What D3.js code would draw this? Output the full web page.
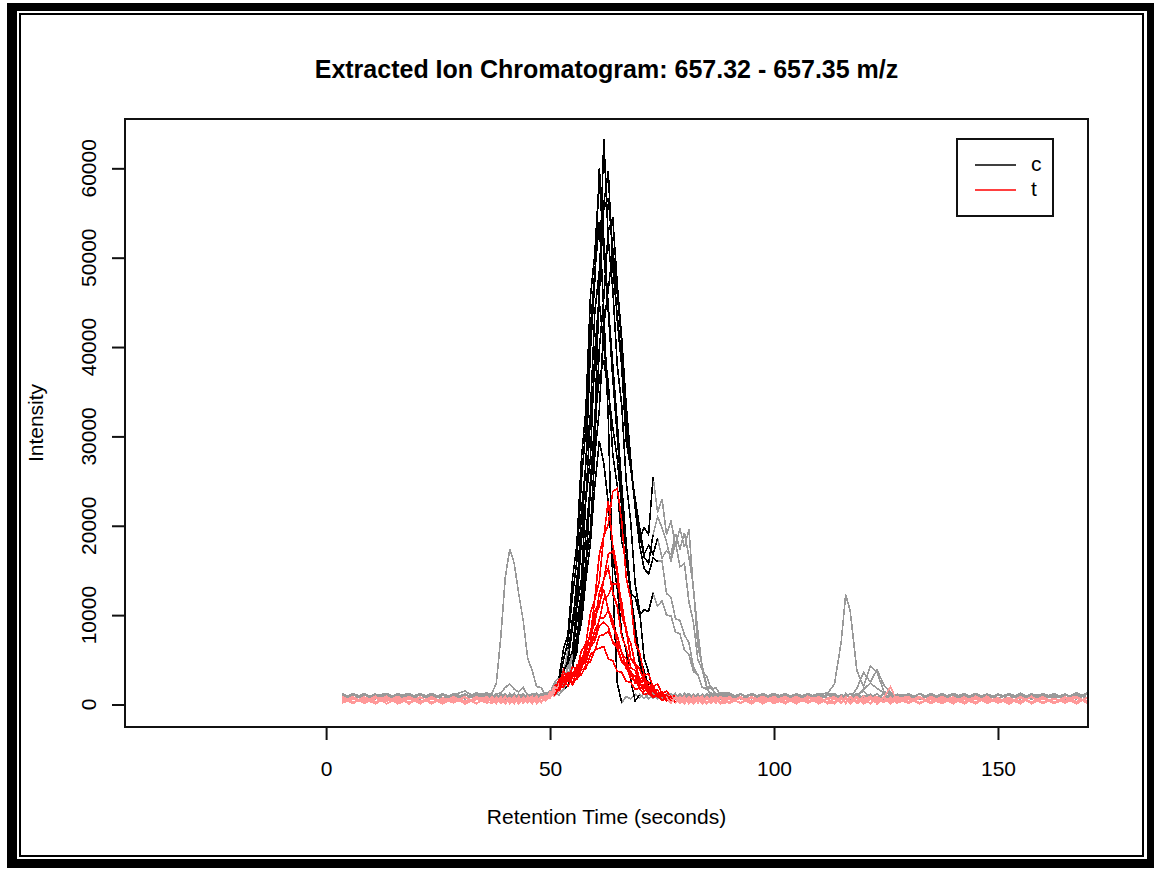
<!DOCTYPE html>
<html>
<head>
<meta charset="utf-8">
<script src="https://cdn.jsdelivr.net/npm/d3@7"></script>
<style>
  body { margin: 0; background: #fff; }
  svg { display: block; }
  text { font-family: "Liberation Sans", Arial, sans-serif; fill: #000; }
</style>
</head>
<body>
<svg id="chart" width="1158" height="870"></svg>
<script>
// Retention time grid (seconds) shared by every extracted ion chromatogram
const retentionTime = [
  3.5, 6, 8.5, 11, 13.5, 16, 18.5, 21, 23.5, 26, 28.5, 31, 33.5, 36,
  37, 38, 39, 40, 41, 42, 43, 44, 45, 46, 47, 48, 49, 50, 51, 52, 53, 54, 55, 56,
  57, 58, 59, 60, 61, 62, 63, 64, 65, 66, 67, 68, 69, 70, 71, 72, 73, 74, 75, 76,
  77, 78, 79, 80, 81, 82, 83, 84, 85, 86, 87, 88,
  90, 92.5, 95, 97.5, 100, 102.5, 105, 107.5, 110, 112,
  113.5, 115, 116, 117, 118.5, 120, 121.5, 123, 124.5, 126, 127.5,
  130, 132.5, 135, 137.5, 140, 142.5, 145, 147.5, 150, 152.5, 155, 157.5, 160, 162.5, 165, 167.5, 170, 172.5
];

// Sample classes and their colours
const classNames = ["c", "t"];
const classColors = ["#000000", "#FF0000"];
const classLightColors = ["#999999", "#FF9999"];

// Samples: class and detected peak retention-time window
const sampleClass = ["c","c","c","c","c","c","c","c","c","c","c","t","t","t","t","t","t","t","t","t","t"];
const peakStart = [53, 53, 54, 52, 54, 55, 52, 55, 53, 55, 55, 52, 51, 52, 52, 51, 51, 52, 51, 52, 51];
const peakEnd   = [73, 72, 73, 72, 73, 74, 66, 74, 73, 70, 72, 78, 77, 77, 76, 76, 76, 77, 78, 77, 76];

// Intensities per sample, one value per retention time
const eicC01 = [620,1050,700,1180,580,960,1240,650,1010,720,1150,600,1080,900,
  1120,640,980,700,1200,610,1050,760,1170,660, 1020,720,1190,840,1300,1050,1700,2100,4300,5800,
  11500,14800,25000,31500,47000,63300,52000,46500,38000,33500, 25000,20500,13500,10500,5200,3600,1500,1250,640,1100,
  700,1180,620,990,1240,680,1060,590,1150,730, 1210,640,
  1080,650,1200,720,980,600,1150,820,1230,690,
  1010,590,1170,700,1240,640,1060,760,1190,620,980,
  1130,680,1020,600,1250,740,1090,630,1180,700,1040,590,1200,810,1110,650,1260,720];
const eicC02 = [700,1140,610,990,1230,680,1080,590,1190,750,1020,640,1260,1100,
  650,1150,720,1040,590,1210,680,1100,760,1180, 620,1090,1250,1400,1900,2200,4000,5200,9600,12500,
  21500,27000,39500,47500,60000,52000,44500,38000,31500,24500, 18000,12500,8800,5200,3800,1900,720,1150,640,1060,
  1200,660,1010,740,1170,600,1090,700,1230,650, 980,1150,
  620,1110,700,1240,660,1020,580,1180,740,1060,
  1150,640,1000,720,1210,590,1090,670,1180,760,1040,
  600,1170,690,1030,750,1220,620,1080,700,1250,650,990,1160,610,1100,720,1200,640];
const eicC03 = [1100,620,1190,700,1020,590,1240,660,1080,730,1160,610,1050,1300,
  700,1130,600,1220,760,1060,640,1190,710,1100, 650,1170,1020,1350,1150,2100,2300,4500,6000,11000,
  14000,23000,27500,39500,46000,56000,59700,49000,43500,38500, 31000,26500,22500,18500,19800,19000,25500,21500,23000,19000,
  20500,17800,19700,17600,19600,12800,8200,3800,3100,1700, 1900,1100,
  1300,700,1150,620,1210,760,1030,600,1190,680,
  1080,650,1230,720,990,1500,640,1160,700,1220,610,
  1190,600,1050,740,1230,660,1000,590,1170,710,1110,640,1250,690,1020,760,1180,620];
const eicC04 = [640,1210,760,1060,600,1150,700,1250,650,1010,730,1180,610,1090,
  1170,690,1030,610,1220,740,1080,620,1160,700, 1240,660,1300,1300,2500,3000,6200,7800,14000,18000,
  27500,33000,45500,50500,59000,50500,44000,36500,30000,23500, 17500,12800,7500,5200,2600,1900,1180,640,1060,710,
  1150,600,1220,680,1020,750,1190,620,1080,700, 1240,650,
  1020,640,1180,720,1250,600,1090,690,1160,750,
  610,1130,700,1240,660,1010,740,1190,590,1080,720,
  1200,650,1080,720,1170,600,1240,690,1030,760,1150,620,1210,700,1060,640,1190,730];
const eicC05 = [1090,700,1230,620,1040,750,1170,600,1200,680,1060,730,1140,1250,
  690,1180,620,1100,740,1240,660,1050,700,1190, 1230,650,1120,1500,1600,2800,3400,6200,8500,14200,
  18000,27500,32500,44000,48500,55500,56700,51000,46000,40500, 33000,27000,22000,19000,16500,15800,19000,21000,19800,18200,
  16000,18200,15400,15800,11500,9200,5000,3900,1800,1900, 1000,1250,
  700,1200,630,1090,750,1160,610,1240,680,1050,
  1170,620,1040,730,1200,660,1120,590,1250,1400,700,
  1010,680,1190,610,1080,740,1230,650,1030,720,1160,600,1200,690,1100,640,1350,710];
const eicC06 = [660,1170,730,1020,610,1240,690,1090,640,1200,760,1050,620,1160,
  1040,640,1210,700,1100,620,1180,740,1020,650, 1130,700,1240,1050,1400,1450,2600,3100,5400,7300,
  12200,15800,24000,29500,39800,45500,53000,54500,47000,41000, 33500,27500,22000,17800,15200,14600,16400,16000,16100,12400,
  12000,9600,9400,7800,6900,4200,3300,1900,1700,1050, 1200,760,
  1150,690,1220,610,1080,730,1190,650,1030,720,
  640,1110,700,1230,1000,1700,2400,1800,1300,700,1160,
  720,1190,640,1060,740,1230,600,1120,690,1170,630,1050,760,1210,660,1090,710,1240];
const eicC07 = [1120,650,1030,720,1200,600,1140,690,1250,740,1060,620,1180,700,
  630,1160,720,1080,600,1230,680,1010,750,1190, 660,1100,1250,1150,2300,2600,5000,7100,12200,16200,
  25000,31000,42000,48500,54000,44000,32000,13500,2400,200, 900,600,1150,700,1220,640,1080,730,1190,610,
  1050,680,1240,620,1100,750,1170,600,1020,720, 1210,660,
  690,1150,620,1060,740,1230,600,1110,700,1180,
  1040,700,1190,630,1250,680,1020,740,1160,610,1090,
  650,1220,710,1050,600,1170,740,1090,630,1240,690,1010,760,1150,620,1200,680,1080];
const eicC08 = [1180,610,1090,740,1220,660,1030,700,1170,600,1250,720,1060,1150,
  740,1200,660,1090,610,1170,720,1030,640,1230, 690,1120,750,1400,1100,1900,1900,3500,4300,7800,
  9800,15800,19500,28000,33000,42500,46500,50600,43000,37800, 29500,26500,23000,19800,16800,17800,16800,18600,16400,17200,
  16800,19100,17400,19200,16500,13200,6500,4300,2000,2000, 1100,1300,
  1230,640,1100,710,1190,600,1040,750,1160,680,
  1080,620,1210,700,1020,740,1170,610,1240,660,1050,
  690,1160,620,1230,700,1080,600,1190,750,1040,640,1220,680,1100,610,1350,730,1140];
const eicC09 = [690,1210,740,1070,620,1180,700,1240,650,1030,760,1150,610,1200,
  1190,620,1100,730,1240,680,1020,750,1160,600, 1080,700,1230,1000,1800,1900,3700,4800,8600,11200,
  18400,23000,32000,37500,45000,40000,36000,28000,24500,18200, 16200,12400,12000,10000,10600,10400,12500,11000,11600,10000,
  9900,8100,7900,6100,5600,3700,3300,1900,1800,1100, 1250,700,
  1100,650,1240,720,1030,600,1180,740,1060,690,
  1200,640,1130,700,1800,3600,2500,3900,2200,1300,700,
  1150,610,1220,690,1040,760,1180,630,1090,700,1250,650,1010,740,1170,600,1200,680];
const eicC10 = [1060,690,1200,620,1130,740,1010,600,1230,680,1100,1500,760,1200,
  1200,2400,7500,14200,17400,15800,12400,9400,5200,3800, 2000,1900,1000,1250,900,1500,1600,3000,4000,6900,
  9100,14000,18000,24500,29500,27000,22500,16500,13000,8000, 6000,2700,400,1100,650,1200,720,1060,610,1180,
  740,1090,620,1230,700,1040,650,1170,720,1010, 640,1200,
  700,1140,630,1220,680,1050,750,1190,610,1090,
  1230,660,1020,740,1170,600,1100,710,1240,650,1060,
  620,1180,700,1040,750,1230,640,1100,690,1200,610,1060,740,1150,660,1250,700,1030];
const eicC11 = [1230,680,1100,610,1180,740,1040,650,1210,700,1080,620,1300,1050,
  700,1150,1300,1900,2300,1700,1400,1900,1000,1150, 640,1180,700,1250,1100,1900,2300,4100,5600,9400,
  12500,19000,24500,32000,36500,38500,35000,31000,27500,22000, 17000,12500,7800,4500,3000,1500,800,1100,650,1150,
  690,1220,620,1040,740,1170,600,1090,710,1240, 660,1010,
  1140,620,1210,700,1050,750,1180,640,1100,1300,
  2300,7000,12300,10500,3800,2000,4300,3600,1500,1100,700,
  1200,650,1080,720,1160,600,1240,690,1020,760,1130,630,1190,700,1060,640,1220,710];
const eicT01 = [120,720,260,840,90,610,780,180,650,330,880,150,560,700,
  210,820,140,690,350,900,100,620,280,760, 170,850,600,1200,900,1900,2000,3500,2300,3800,
  4200,6500,7700,11800,13800,18800,20200,23800,24200,20500, 14200,11800,6900,5800,3300,3400,2000,2300,1200,1500,
  800,1000,180,760,90,640,850,230,700,120, 590,880,
  260,830,120,700,380,910,150,620,790,200,
  680,110,860,300,740,60,590,920,240,710,160,
  850,200,660,90,780,340,890,130,600,250,820,170,720,80,640,900,210,760];
const eicT02 = [800,150,690,280,910,70,620,350,840,190,730,110,880,260,
  650,230,870,100,740,320,810,160,590,900, 140,700,1000,900,2100,2300,3800,2600,4200,3900,
  6000,6800,10200,11800,16800,18800,22800,17800,15200,10400, 8600,5200,4700,2800,3100,1900,2100,1100,1400,700,
  1000,200,760,120,880,290,640,60,820,350, 700,150,
  880,130,740,310,600,90,860,240,710,180,
  220,790,100,910,330,650,140,870,270,590,830,
  170,690,330,860,80,750,240,920,150,620,380,810,110,700,260,900,190,640];
const eicT03 = [340,890,130,650,800,220,720,60,860,290,610,170,780,250,
  880,180,640,330,790,90,720,260,910,150, 690,300,900,700,1800,1900,3300,3500,3500,3700,
  5200,5600,8100,9000,12500,14000,16800,17200,14600,10000, 8300,5100,4400,2600,2800,1700,2000,1000,1300,600,
  850,150,700,370,820,80,640,900,200,730, 110,860,
  590,210,850,70,760,330,900,160,640,280,
  120,700,260,880,90,610,830,180,750,2000,310,
  760,120,910,280,650,60,800,350,700,170,870,90,620,260,840,150,730,380];
const eicT04 = [160,760,340,900,110,680,230,820,70,730,370,860,140,600,
  320,840,120,750,260,920,80,660,380,810, 200,880,400,1100,1000,2300,2500,2700,3000,4000,
  4300,6200,7000,9800,11000,14000,15300,12500,11000,7600, 6400,4100,3800,2400,2600,1600,1800,900,1200,500,
  800,240,900,130,690,360,820,70,740,270, 880,190,
  700,190,890,320,620,80,780,250,910,140,
  840,300,650,100,770,380,900,60,710,230,820,
  310,880,100,700,260,840,130,760,390,620,70,890,220,670,150,800,340,720];
const eicT05 = [640,240,870,100,750,330,920,170,690,60,810,280,600,850,
  130,710,290,890,60,770,340,640,200,860, 360,800,500,1400,1400,2800,3000,3000,3200,4400,
  4700,6700,7600,10400,11400,12800,10600,9400,6800,5900, 4000,3700,2400,2500,1500,1700,900,1200,500,850,
  200,780,90,650,310,880,160,720,60,830, 250,690,
  150,780,360,910,90,640,220,850,120,730,
  690,140,820,270,900,80,600,350,760,190,880,
  230,740,120,890,340,610,70,830,280,700,160,920,100,660,390,780,200,850];
const eicT06 = [900,280,610,140,830,380,700,90,760,250,880,60,650,330,
  740,90,820,250,680,380,900,120,610,300, 850,170,800,800,1700,1800,3100,3200,3300,3300,
  4600,4900,6800,7400,9600,9700,10500,8700,7700,5700, 5100,3500,3200,2100,2200,1400,1600,900,1100,400,
  730,260,850,110,690,340,900,70,620,280, 810,150,
  320,870,140,660,250,790,60,900,380,610,
  90,740,300,850,170,620,920,240,780,120,690,
  870,150,640,360,790,80,910,230,600,340,760,110,850,290,690,60,820,250];
const eicT07 = [180,650,370,910,80,720,260,840,130,600,390,790,70,880,
  270,660,140,880,350,710,60,800,230,920, 120,650,900,800,1800,1900,3000,2000,3100,3200,
  4400,4700,6400,7100,8800,9200,8700,6900,6300,4700, 4300,2900,2800,1800,2000,1200,1500,800,1100,400,
  880,150,700,290,830,60,640,370,910,200, 610,320,
  850,100,720,270,900,160,610,390,780,70,
  330,860,130,690,240,910,90,640,370,800,180,
  640,90,820,290,700,150,880,360,610,60,790,230,900,120,680,340,750,170];
const eicT08 = [720,90,850,310,640,160,900,250,680,60,770,380,610,140,
  890,200,600,360,760,110,850,290,700,80, 780,330,900,700,1600,1500,2700,2900,2900,2800,
  3900,4000,5600,6000,7700,7800,8200,7100,6500,4900, 4600,3200,3100,2200,2200,1500,1600,1000,1200,600,
  850,220,670,90,790,350,880,140,610,300, 740,60,
  280,700,80,860,350,620,190,910,260,740,
  620,210,880,70,750,330,600,150,830,390,690,
  120,870,260,640,390,780,70,900,200,690,330,820,150,610,280,870,90,730];
const eicT09 = [260,800,140,690,370,920,60,750,290,610,180,860,110,700,
  600,310,880,70,730,240,830,150,660,390, 900,210,850,700,1500,1500,2700,3000,3000,3800,
  4000,5500,6300,8300,9400,11800,12200,13500,13500,11400, 8000,6900,4500,4000,2600,2500,1600,1600,900,1100,
  400,760,240,870,100,680,330,800,150,620, 910,280,
  660,170,810,380,900,90,720,260,630,140,
  240,900,110,780,340,630,70,860,210,700,380,
  810,60,690,300,870,160,620,390,750,100,900,250,640,170,830,330,710,90];
const eicT10 = [830,310,610,70,780,240,890,160,660,380,720,100,850,270,
  130,760,300,920,180,650,90,840,370,710, 250,880,400,1100,1000,1900,1900,3000,2200,3100,
  3300,4400,4800,6100,6300,6500,5100,4900,3700,3600, 2600,2500,1700,1800,1100,1300,800,1000,450,700,
  160,790,330,900,80,640,270,850,120,700, 360,820,
  90,740,290,880,150,610,370,820,60,690,
  860,200,700,320,920,110,650,260,790,70,610,
  340,900,150,720,60,830,280,650,380,790,120,880,210,600,330,760,170,910];

const intensities = [eicC01, eicC02, eicC03, eicC04, eicC05, eicC06, eicC07, eicC08, eicC09, eicC10, eicC11,
  eicT01, eicT02, eicT03, eicT04, eicT05, eicT06, eicT07, eicT08, eicT09, eicT10];

// Axis settings
const xDomain = [-44.9, 170.1];
const yDomain = [-2520, 65520];
const xTicks = [0, 50, 100, 150];
const yTicks = [0, 10000, 20000, 30000, 40000, 50000, 60000];

const titleText = "Extracted Ion Chromatogram: 657.32 - 657.35 m/z";
const xLabel = "Retention Time (seconds)";
const yLabel = "Intensity";

// ---- layout ----
const W = 1158, H = 870;
const plot = { left: 125, right: 1088, top: 119, bottom: 727 };

const svg = d3.select("#chart");
svg.append("rect").attr("width", W).attr("height", H).attr("fill", "#fff");

// double frame around the figure
svg.append("path")
  .attr("fill", "#000").attr("fill-rule", "evenodd")
  .attr("d", "M7,3H1154V868H7Z M17,11V859H1147V11Z");
svg.append("rect")
  .attr("x", 20).attr("y", 14).attr("width", 1123).attr("height", 842)
  .attr("fill", "none").attr("stroke", "#000").attr("stroke-width", 2);

const x = d3.scaleLinear().domain(xDomain).range([plot.left, plot.right]);
const y = d3.scaleLinear().domain(yDomain).range([plot.bottom, plot.top]);

svg.append("clipPath").attr("id", "plotClip")
  .append("rect")
  .attr("x", plot.left).attr("y", plot.top)
  .attr("width", plot.right - plot.left).attr("height", plot.bottom - plot.top);

const traces = svg.append("g").attr("clip-path", "url(#plotClip)");
const line = d3.line().x(d => x(d[0])).y(d => y(d[1]));

intensities.forEach((vals, i) => {
  const cls = classNames.indexOf(sampleClass[i]);
  const pts = retentionTime.map((t, k) => [t, vals[k]]);
  // whole chromatogram in the light class colour
  traces.append("path")
    .attr("d", line(pts))
    .attr("fill", "none")
    .attr("stroke", classLightColors[cls])
    .attr("stroke-width", 1.6)
    .attr("shape-rendering", "crispEdges");
  // detected peak window in the full class colour
  const inPeak = pts.filter(p => p[0] >= peakStart[i] && p[0] <= peakEnd[i]);
  traces.append("path")
    .attr("d", line(inPeak))
    .attr("fill", "none")
    .attr("stroke", classColors[cls])
    .attr("stroke-width", 1.6)
    .attr("shape-rendering", "crispEdges");
});

// plot box
svg.append("rect")
  .attr("x", plot.left).attr("y", plot.top)
  .attr("width", plot.right - plot.left).attr("height", plot.bottom - plot.top)
  .attr("fill", "none").attr("stroke", "#111").attr("stroke-width", 2);

// x axis
const xAxis = svg.append("g")
  .attr("transform", `translate(0,${plot.bottom})`)
  .call(d3.axisBottom(x).tickValues(xTicks).tickSize(13).tickSizeOuter(0).tickPadding(21).tickFormat(d3.format("d")));
xAxis.select(".domain").remove();
xAxis.selectAll(".tick line").attr("stroke", "#111").attr("stroke-width", 2);
xAxis.selectAll(".tick text")
  .attr("font-family", "'Liberation Sans', Arial, sans-serif")
  .attr("font-size", 21).attr("fill", "#000");

// y axis (labels drawn parallel to the axis)
const yAxis = svg.append("g")
  .attr("transform", `translate(${plot.left},0)`)
  .call(d3.axisLeft(y).tickValues(yTicks).tickSize(13).tickSizeOuter(0).tickFormat(""));
yAxis.select(".domain").remove();
yAxis.selectAll(".tick line").attr("stroke", "#111").attr("stroke-width", 2);
svg.append("g").selectAll("text")
  .data(yTicks).join("text")
  .attr("transform", d => `translate(96,${y(d)}) rotate(-90)`)
  .attr("text-anchor", "middle")
  .attr("font-size", 21)
  .text(d => d3.format("d")(d));

// titles
svg.append("text")
  .attr("x", (plot.left + plot.right) / 2).attr("y", 78)
  .attr("text-anchor", "middle")
  .attr("font-size", 25).attr("font-weight", "bold")
  .text(titleText);
svg.append("text")
  .attr("x", (plot.left + plot.right) / 2).attr("y", 824)
  .attr("text-anchor", "middle")
  .attr("font-size", 21)
  .text(xLabel);
svg.append("text")
  .attr("transform", `translate(43,${(plot.top + plot.bottom) / 2}) rotate(-90)`)
  .attr("text-anchor", "middle")
  .attr("font-size", 21)
  .text(yLabel);

// legend
const legend = svg.append("g");
legend.append("rect")
  .attr("x", 957).attr("y", 139).attr("width", 96).attr("height", 77)
  .attr("fill", "#fff").attr("stroke", "#111").attr("stroke-width", 2);
classNames.forEach((name, i) => {
  const ly = 165 + i * 25;
  legend.append("line")
    .attr("x1", 975).attr("x2", 1016).attr("y1", ly).attr("y2", ly)
    .attr("stroke", classColors[i]).attr("stroke-width", 1.5);
  legend.append("text")
    .attr("x", 1031).attr("y", ly + 6)
    .attr("font-size", 21)
    .text(name);
});
</script>
</body>
</html>
